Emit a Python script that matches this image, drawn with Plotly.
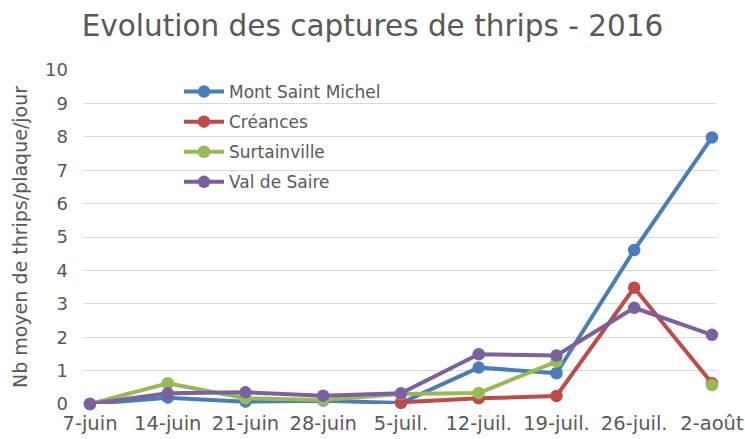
import plotly.graph_objects as go

dates = ["7-juin", "14-juin", "21-juin", "28-juin", "5-juil.", "12-juil.", "19-juil.", "26-juil.", "2-août"]
mont_saint_michel = [0.0, 0.19, 0.07, 0.1, 0.03, 1.09, 0.92, 4.61, 7.98]
creances = [None, None, None, None, 0.05, 0.17, 0.24, 3.48, 0.62]
surtainville = [0.0, 0.62, 0.17, 0.12, 0.3, 0.33, 1.27, None, 0.57]
val_de_saire = [0.0, 0.32, 0.35, 0.25, 0.32, 1.49, 1.45, 2.88, 2.07]

series = [
    ("Mont Saint Michel", mont_saint_michel, "#4A7EBB"),
    ("Créances", creances, "#BE4B48"),
    ("Surtainville", surtainville, "#98B954"),
    ("Val de Saire", val_de_saire, "#7D60A0"),
]

FONT = "DejaVu Sans"
GREY = "#595959"

fig = go.Figure()
for name, vals, col in series:
    fig.add_trace(go.Scatter(
        x=list(range(len(dates))), y=vals, name=name, mode="lines+markers",
        line=dict(color=col, width=4), marker=dict(color=col, size=12.5),
        connectgaps=False, cliponaxis=False, legendgroup=name,
    ))

fig.add_shape(type="rect", xref="paper", yref="paper",
              x0=(137 - 83) / 634, x1=(414 - 83) / 634,
              y0=(404 - 198) / 334, y1=(404 - 76) / 334,
              fillcolor="white", line=dict(width=0), layer="between")

fig.update_layout(
    width=745, height=439,
    margin=dict(l=83, r=28, t=70, b=35, autoexpand=False),
    paper_bgcolor="white", plot_bgcolor="white",
    title=dict(text="Evolution des captures de thrips - 2016", x=0.5, xanchor="center",
               y=1 - 26 / 439, yanchor="middle",
               font=dict(family=FONT, size=29.5, color=GREY)),
    font=dict(family=FONT, color=GREY),
    showlegend=True,
    legend=dict(x=(179 - 83) / 634, y=(404 - 74) / 334, xanchor="left", yanchor="top",
                bgcolor="rgba(0,0,0,0)", font=dict(family=FONT, size=17, color=GREY),
                tracegroupgap=5, traceorder="grouped", itemwidth=40),
    xaxis=dict(tickmode="array", tickvals=list(range(len(dates))), ticktext=dates,
               range=[-0.09, 8.065], showgrid=False, zeroline=False, showline=False,
               ticks="", ticklabelstandoff=5, automargin=False,
               tickfont=dict(family=FONT, size=19.5, color=GREY)),
    yaxis=dict(range=[0, 10], dtick=1, showgrid=True, gridcolor="#D9D9D9", gridwidth=1.3,
               zeroline=False, showline=False, ticks="", automargin=False,
               tickfont=dict(family=FONT, size=18, color=GREY), ticklabelstandoff=14,
               title=dict(text="Nb moyen de thrips/plaque/jour", standoff=12,
                          font=dict(family=FONT, size=19, color=GREY))),
)

fig.write_html("out.html", config={"displayModeBar": False},
               post_script="document.body.style.margin='0';document.body.style.overflow='hidden';")
